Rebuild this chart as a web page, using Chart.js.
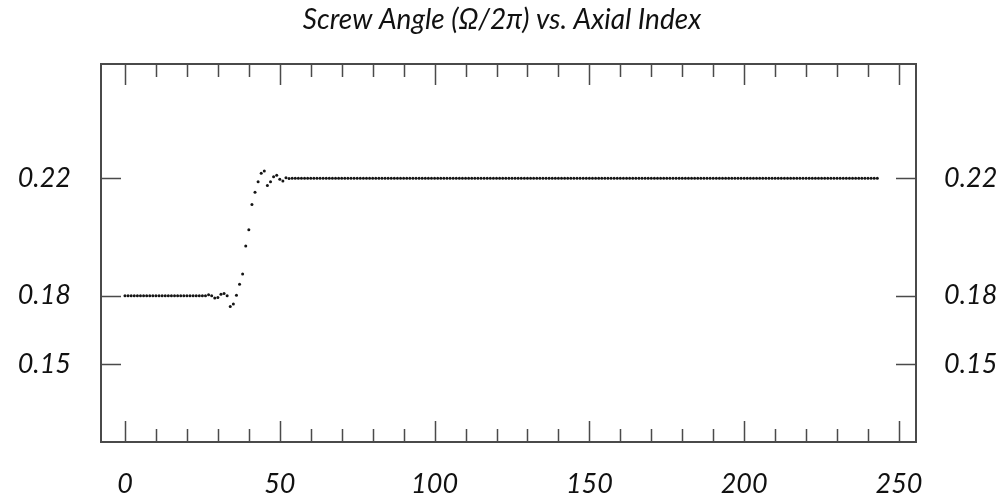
<!DOCTYPE html>
<html>
<head>
<meta charset="utf-8">
<title>Screw Angle vs. Axial Index</title>
<script src="https://cdn.jsdelivr.net/npm/chart.js@4"></script>
<style>
	html, body { margin: 0; padding: 0; background: #fff; }
	#wrap { width: 1004px; height: 499px; position: relative; }
</style>
</head>
<body>
<div id="wrap"><canvas id="screwChart"></canvas></div>
<script>
// screw angle (Omega / 2 pi) per axial index
var screwAngle = [
	0.18, 0.18, 0.18, 0.18, 0.18, 0.18, 0.18, 0.18, 0.18, 0.18,
	0.18, 0.18, 0.18, 0.18, 0.18, 0.18, 0.18, 0.18, 0.18, 0.18,
	0.18, 0.18, 0.18, 0.18, 0.18, 0.18, 0.18,
	0.1803, 0.18, 0.1792, 0.1794, 0.1805, 0.1808, 0.18, 0.1763, 0.1772, 0.1802,
	0.1839, 0.1874, 0.1969, 0.2025, 0.2111, 0.2152, 0.2188, 0.2217, 0.2225, 0.2175,
	0.2188, 0.2205, 0.2210, 0.2197, 0.2191, 0.2202, 0.2199,
	0.22, 0.22, 0.22, 0.22, 0.22, 0.22, 0.22, 0.22, 0.22, 0.22,
	0.22, 0.22, 0.22, 0.22, 0.22, 0.22, 0.22, 0.22, 0.22, 0.22,
	0.22, 0.22, 0.22, 0.22, 0.22, 0.22, 0.22, 0.22, 0.22, 0.22,
	0.22, 0.22, 0.22, 0.22, 0.22, 0.22, 0.22, 0.22, 0.22, 0.22,
	0.22, 0.22, 0.22, 0.22, 0.22, 0.22, 0.22, 0.22, 0.22, 0.22,
	0.22, 0.22, 0.22, 0.22, 0.22, 0.22, 0.22, 0.22, 0.22, 0.22,
	0.22, 0.22, 0.22, 0.22, 0.22, 0.22, 0.22, 0.22, 0.22, 0.22,
	0.22, 0.22, 0.22, 0.22, 0.22, 0.22, 0.22, 0.22, 0.22, 0.22,
	0.22, 0.22, 0.22, 0.22, 0.22, 0.22, 0.22, 0.22, 0.22, 0.22,
	0.22, 0.22, 0.22, 0.22, 0.22, 0.22, 0.22, 0.22, 0.22, 0.22,
	0.22, 0.22, 0.22, 0.22, 0.22, 0.22, 0.22, 0.22, 0.22, 0.22,
	0.22, 0.22, 0.22, 0.22, 0.22, 0.22, 0.22, 0.22, 0.22, 0.22,
	0.22, 0.22, 0.22, 0.22, 0.22, 0.22, 0.22, 0.22, 0.22, 0.22,
	0.22, 0.22, 0.22, 0.22, 0.22, 0.22, 0.22, 0.22, 0.22, 0.22,
	0.22, 0.22, 0.22, 0.22, 0.22, 0.22, 0.22, 0.22, 0.22, 0.22,
	0.22, 0.22, 0.22, 0.22, 0.22, 0.22, 0.22, 0.22, 0.22, 0.22,
	0.22, 0.22, 0.22, 0.22, 0.22, 0.22, 0.22, 0.22, 0.22, 0.22,
	0.22, 0.22, 0.22, 0.22, 0.22, 0.22, 0.22, 0.22, 0.22, 0.22,
	0.22, 0.22, 0.22, 0.22, 0.22, 0.22, 0.22, 0.22, 0.22, 0.22
];

var xLabelTicks = [0, 50, 100, 150, 200, 250];
var xMinorTicks = [0, 10, 20, 30, 40, 50, 60, 70, 80, 90, 100, 110, 120, 130, 140, 150,
	160, 170, 180, 190, 200, 210, 220, 230, 240, 250];
// tick positions as they sit on the original axis, with the labels it prints
var yTickValues = [0.1566, 0.18, 0.22];
var yTickLabels = ['0.15', '0.18', '0.22'];

var X_MIN = -7.75, X_MAX = 255.5;
var Y_MIN = 0.1302, Y_MAX = 0.2589;

var AXIS = '#4a4a4a';
var INK = '#111';
var FONT = "Lato, 'Open Sans', sans-serif";

var TITLE_SIZE = 28, TITLE_PAD_TOP = 3;
var PLOT_TOP = 64;

var points = screwAngle.map(function (v, i) { return { x: i, y: v }; });

function setTicks(values) {
	return function (scale) {
		scale.ticks = values.map(function (v) { return { value: v }; });
	};
}

function fixWidth(w) {
	return function (scale) { scale.width = w; };
}

function fixHeight(h) {
	return function (scale) { scale.height = h; };
}

// inward tick marks on all four sides of the frame
var frameTicks = {
	id: 'frameTicks',
	afterDraw: function (chart) {
		var ctx = chart.ctx;
		var area = chart.chartArea;
		var xs = chart.scales.x;
		var ys = chart.scales.y;
		ctx.save();
		ctx.strokeStyle = AXIS;
		ctx.lineWidth = 1.5;
		ctx.beginPath();
		xMinorTicks.forEach(function (v) {
			var px = Math.round(xs.getPixelForValue(v)) + 0.5;
			var len = xLabelTicks.indexOf(v) >= 0 ? 21 : 13;
			ctx.moveTo(px, area.top);
			ctx.lineTo(px, area.top + len);
			ctx.moveTo(px, area.bottom);
			ctx.lineTo(px, area.bottom - len);
		});
		yTickValues.forEach(function (v) {
			var py = Math.round(ys.getPixelForValue(v)) + 0.5;
			ctx.moveTo(area.left, py);
			ctx.lineTo(area.left + 20, py);
			ctx.moveTo(area.right, py);
			ctx.lineTo(area.right - 20, py);
		});
		ctx.stroke();
		ctx.restore();
	}
};

var tickFont = { family: FONT, size: 27, style: 'italic' };

new Chart(document.getElementById('screwChart'), {
	type: 'scatter',
	data: {
		datasets: [{
			label: 'Screw angle',
			data: points,
			showLine: false,
			pointRadius: 1.5,
			pointHoverRadius: 1.5,
			pointBorderWidth: 0,
			backgroundColor: '#151515',
			borderColor: '#151515'
		}]
	},
	options: {
		responsive: true,
		maintainAspectRatio: false,
		animation: false,
		layout: { padding: 0 },
		plugins: {
			legend: { display: false },
			tooltip: { enabled: false },
			title: {
				display: true,
				text: 'Screw Angle (\u03A9/2\u03C0) vs. Axial Index',
				color: INK,
				font: { family: FONT, size: TITLE_SIZE, style: 'italic', weight: 'normal', lineHeight: 1.2 },
				padding: { top: TITLE_PAD_TOP, bottom: 0 }
			}
		},
		scales: {
			x: {
				type: 'linear',
				position: 'bottom',
				min: X_MIN,
				max: X_MAX,
				afterBuildTicks: setTicks(xLabelTicks),
				afterFit: fixHeight(57),
				grid: { display: true, drawOnChartArea: false, drawTicks: false },
				border: { display: true, color: AXIS, width: 2 },
				ticks: { color: INK, font: tickFont, padding: 26, maxRotation: 0 }
			},
			x2: {
				type: 'linear',
				position: 'top',
				min: X_MIN,
				max: X_MAX,
				afterFit: fixHeight(PLOT_TOP - TITLE_SIZE * 1.2 - TITLE_PAD_TOP),
				grid: { display: true, drawOnChartArea: false, drawTicks: false },
				border: { display: true, color: AXIS, width: 2 },
				ticks: { display: false }
			},
			y: {
				type: 'linear',
				position: 'left',
				min: Y_MIN,
				max: Y_MAX,
				afterBuildTicks: setTicks(yTickValues),
				afterFit: fixWidth(101),
				grid: { display: true, drawOnChartArea: false, drawTicks: false },
				border: { display: true, color: AXIS, width: 2 },
				ticks: {
					color: INK,
					font: tickFont,
					padding: 30,
					callback: function (value, index) { return yTickLabels[index]; }
				}
			},
			y2: {
				type: 'linear',
				position: 'right',
				min: Y_MIN,
				max: Y_MAX,
				afterBuildTicks: setTicks(yTickValues),
				afterFit: fixWidth(88),
				grid: { display: true, drawOnChartArea: false, drawTicks: false },
				border: { display: true, color: AXIS, width: 2 },
				ticks: {
					color: INK,
					font: tickFont,
					padding: 28,
					callback: function (value, index) { return yTickLabels[index]; }
				}
			}
		}
	},
	plugins: [frameTicks]
});
</script>
</body>
</html>
